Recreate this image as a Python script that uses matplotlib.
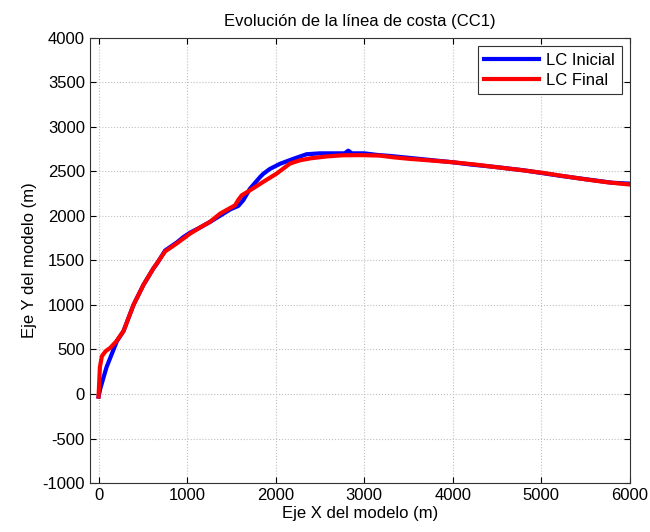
import matplotlib
matplotlib.use("Agg")
import matplotlib.pyplot as plt

plt.rcParams['font.family'] = ['Liberation Sans', 'DejaVu Sans']
plt.rcParams['axes.unicode_minus'] = False

# LC Inicial (blue)
x_ini = [0, 20, 56, 90, 132, 170, 207, 282, 395, 507, 620, 658, 752, 884, 958, 1034,
         1150, 1259, 1372, 1485, 1578, 1635, 1710, 1823, 1860, 1936, 2048, 2198, 2349,
         2500, 2650, 2780, 2820, 2860, 3000, 3139, 3300, 3439, 3600, 3800, 4000, 4200,
         4500, 4800, 5000, 5200, 5500, 5800, 6000]
y_ini = [-30, 60, 185, 300, 405, 500, 592, 706, 1000, 1224, 1410, 1460, 1610, 1700, 1760, 1810,
         1870, 1930, 2000, 2070, 2110, 2175, 2303, 2433, 2470, 2526, 2582, 2638, 2690,
         2700, 2700, 2700, 2730, 2700, 2700, 2683, 2670, 2656, 2640, 2620, 2600, 2575,
         2545, 2510, 2480, 2450, 2410, 2370, 2360]

# LC Final (red)
x_fin = [0, 15, 38, 80, 132, 200, 282, 395, 507, 620, 752, 884, 1034, 1150, 1259, 1372,
         1541, 1580, 1617, 1710, 1860, 2011, 2161, 2274, 2400, 2575, 2750, 2950, 3176,
         3326, 3514, 3750, 4002, 4250, 4491, 4750, 5017, 5250, 5506, 5750, 6000]
y_fin = [-30, 300, 425, 480, 517, 590, 706, 1000, 1224, 1410, 1600, 1690, 1800, 1870, 1932, 2023,
         2117, 2180, 2229, 2285, 2380, 2473, 2585, 2622, 2645, 2665, 2678, 2680, 2675,
         2656, 2638, 2620, 2600, 2575, 2545, 2515, 2481, 2445, 2407, 2375, 2350]

x_ticks = [0, 1000, 2000, 3000, 4000, 5000, 6000]
y_ticks = [-1000, -500, 0, 500, 1000, 1500, 2000, 2500, 3000, 3500, 4000]

fig = plt.figure(figsize=(6.5, 5.32), dpi=100)
ax = fig.add_axes([0.138, 0.092, 0.831, 0.8375])

ax.plot(x_ini, y_ini, color='#0000ff', lw=3, label='LC Inicial', solid_joinstyle='round')
ax.plot(x_fin, y_fin, color='#ff0000', lw=3, label='LC Final', solid_joinstyle='round')

ax.set_xlim(-100, 6000)
ax.set_ylim(-1000, 4000)
ax.set_xticks(x_ticks)
ax.set_yticks(y_ticks)
ax.tick_params(direction='in', labelsize=12, length=4, top=True, right=True)
ax.grid(True, linestyle=':', color='#c0c0c0', lw=0.8)
for s in ax.spines.values():
    s.set_linewidth(0.8)
    s.set_color('#333333')

ax.set_title('Evolución de la línea de costa (CC1)', fontsize=12, pad=8)
ax.set_xlabel('Eje X del modelo (m)', fontsize=12, labelpad=2)
ax.set_ylabel('Eje Y del modelo (m)', fontsize=12)

leg = ax.legend(loc='upper right', fontsize=12, fancybox=False, edgecolor='#333333',
                framealpha=1, handlelength=3.3, borderaxespad=0.5,
                handletextpad=0.4, labelspacing=0.3)
leg.get_frame().set_linewidth(0.8)

fig.savefig('out.png', dpi=100)
